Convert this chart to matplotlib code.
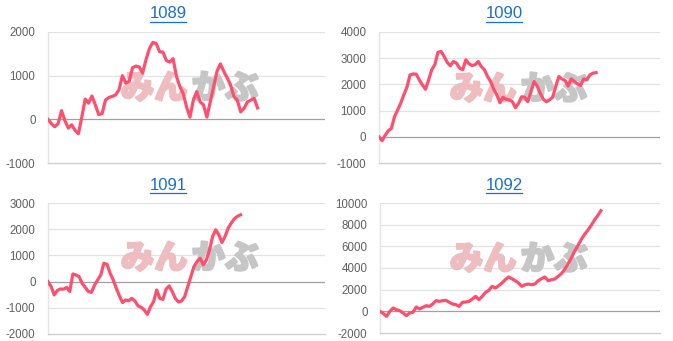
import matplotlib
matplotlib.use("Agg")
import matplotlib.pyplot as plt
import matplotlib.patheffects as pe
import numpy as np

titles = ["1089", "1090", "1091", "1092"]

s1089 = [0, -100, -170, -100, 200, -30, -200, -125, -250, -330, 50, 465, 370, 535, 330,
         110, 130, 440, 500, 525, 560, 675, 1000, 830, 870, 1180, 1220, 1200, 1060, 1370,
         1620, 1760, 1740, 1550, 1540, 1350, 1310, 1390, 985, 750, 590, 280, 50, 440, 635,
         400, 330, 50, 400, 750, 1100, 1270, 1100, 950, 790, 520, 440, 170, 250, 400, 440,
         480, 260]
s1090 = [0, -150, 60, 230, 320, 770, 1020, 1280, 1600, 1890, 2360, 2400, 2390, 2170, 1980,
         1815, 2170, 2560, 2750, 3220, 3260, 3070, 2840, 2710, 2875, 2810, 2620, 2560, 2940,
         2790, 2720, 2750, 2875, 2680, 2560, 2300, 2110, 1815, 1600, 1300, 1510, 1430, 1410,
         1340, 1110, 1280, 1530, 1510, 1340, 1730, 2110, 1940, 1660, 1430, 1340, 1410, 1510,
         1920, 2300, 2210, 2150, 1940, 2210, 2110, 2020, 1955, 2210, 2170, 2360, 2430, 2450]
s1091 = [0, -190, -510, -340, -280, -290, -220, -380, 290, 255, 190, -65, -220, -380, -410,
         -130, 65, 255, 700, 660, 320, 65, -255, -550, -800, -700, -730, -640, -740, -930,
         -980, -1085, -1250, -960, -765, -320, -640, -680, -290, -165, -380, -640, -780, -740,
         -575, -190, 190, 575, 765, 890, 640, 830, 1210, 1720, 1980, 1790, 1490, 1720, 2040,
         2230, 2400, 2490, 2550]
s1092 = [0, -200, -460, 0, 310, 150, 60, -150, -400, -150, -90, 400, 215, 370, 520, 460, 680,
         985, 920, 985, 1015, 830, 680, 615, 460, 830, 860, 920, 1140, 1385, 1080, 1385, 1750,
         1940, 2310, 2150, 2370, 2620, 2920, 3170, 3015, 2830, 2620, 2310, 2460, 2520, 2460,
         2520, 2830, 3015, 3170, 2830, 2920, 2980, 3230, 3480, 3850, 4370, 4920, 5540, 6060,
         6620, 7080, 7480, 7910, 8400, 8830, 9290]
series = [s1089, s1090, s1091, s1092]

yticks = [[-1000, 0, 1000, 2000],
          [-1000, 0, 1000, 2000, 3000, 4000],
          [-2000, -1000, 0, 1000, 2000, 3000],
          [-2000, 0, 2000, 4000, 6000, 8000, 10000]]

# fraction of axis width covered by each line
cover = [628 / 830, 652 / 844, 577 / 830, 662 / 839]

W, H = 673, 341
fig = plt.figure(figsize=(W / 100, H / 100), dpi=100)
plt.rcParams['font.family'] = ['Liberation Sans', 'DejaVu Sans']

# axes boxes in pixels: left, right, top, bottom
boxes = [(48, 325, 32, 163), (379, 660, 32, 163), (48, 325, 203, 334), (380, 660, 203, 333)]
title_pos = [(168, 14), (504, 14), (168, 185), (504, 185)]
wm_pos = [(189, 88), (518, 89), (189, 258), (518, 259)]

line_color = "#ff4f6e"
for i in range(4):
    l, r, t, b = boxes[i]
    ax = fig.add_axes([l / W, 1 - b / H, (r - l) / W, (b - t) / H])
    y = np.array(series[i])
    x = np.arange(len(y))
    ax.plot(x, y, color=line_color, lw=2.3, solid_joinstyle='round', zorder=5)
    ax.set_xlim(0, (len(y) - 1) / cover[i])
    yt = yticks[i]
    ax.set_ylim(yt[0], yt[-1])
    ax.set_yticks(yt)
    ax.set_yticklabels([str(v) for v in yt])
    ax.set_xticks([])
    ax.tick_params(axis='y', length=0, pad=9, labelsize=8.3, labelcolor='#606060')
    for v in yt:
        if v == 0:
            ax.axhline(v, color='#a0a0a0', lw=0.9, zorder=2)
        elif v != yt[0]:
            ax.axhline(v, color='#e2e2e2', lw=0.9, zorder=1)
    for s in ['top', 'right']:
        ax.spines[s].set_visible(False)
    ax.spines['left'].set_color('#e4e4e4')
    ax.spines['bottom'].set_color('#cfcfcf')
    ax.spines['left'].set_linewidth(1.0)
    ax.spines['bottom'].set_linewidth(1.0)

    tx, ty = title_pos[i]
    fig.text(tx / W, 1 - ty / H, titles[i], ha='center', va='center', fontsize=12,
             color='#1a6fd0', fontfamily=['Liberation Sans', 'DejaVu Sans'])
    fig.add_artist(plt.Line2D([(tx - 18) / W, (tx + 18) / W], [1 - (ty + 8) / H, 1 - (ty + 8) / H],
                              color='#1a6fd0', lw=0.9))

    wx, wy = wm_pos[i]
    ax.text(wx / W - 0.002, 1 - wy / H, "みん", ha='right', va='center', fontsize=24,
            fontweight='heavy', color='#edbdc0', zorder=3, clip_on=False,
            transform=fig.transFigure,
            fontfamily=['Noto Sans CJK JP', 'DejaVu Sans'],
            path_effects=[pe.withStroke(linewidth=1.5, foreground='#edbdc0')])
    ax.text(wx / W + 0.004, 1 - wy / H, "かぶ", ha='left', va='center', fontsize=24,
            fontweight='heavy', color='#c6c6c6', zorder=3, clip_on=False,
            transform=fig.transFigure,
            fontfamily=['Noto Sans CJK JP', 'DejaVu Sans'],
            path_effects=[pe.withStroke(linewidth=1.5, foreground='#c6c6c6')])

fig.savefig("out.png", dpi=100)
